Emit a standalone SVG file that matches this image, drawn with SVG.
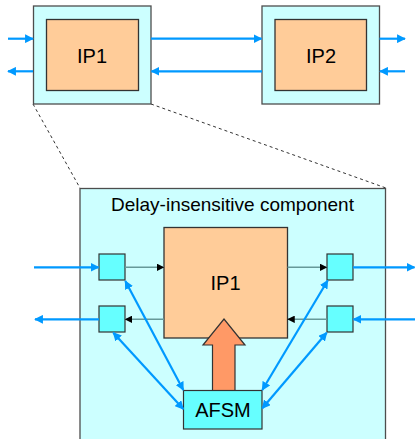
<svg xmlns="http://www.w3.org/2000/svg" width="415" height="439" viewBox="0 0 415 439">
  <style>
    .wrap { fill: #ccffff; stroke: #4d4d4d; stroke-width: 1.3; }
    .core { fill: #ffcc99; stroke: #333333; stroke-width: 1.3; }
    .port { fill: #66ffff; stroke: #333333; stroke-width: 1.2; }
    .label { font-family: "Liberation Sans", Arial, sans-serif; fill: #000000; }
    .wire { stroke: #0099ff; stroke-width: 2.2; fill: none; }
    .inner { stroke: #669999; stroke-width: 1.5; fill: none; }
    .zoom { stroke: #333333; stroke-width: 1; stroke-dasharray: 3 3; fill: none; }
  </style>
  <defs>
    <marker id="blueHead" viewBox="0 0 10 10" refX="9" refY="5" markerWidth="4" markerHeight="4" orient="auto-start-reverse" markerUnits="strokeWidth">
      <path d="M0,0 L10,5 L0,10 Z" fill="#0099ff"/>
    </marker>
    <marker id="blackHead" viewBox="0 0 10 10" refX="9" refY="5" markerWidth="5" markerHeight="5" orient="auto" markerUnits="strokeWidth">
      <path d="M0,0 L10,5 L0,10 Z" fill="#000000"/>
    </marker>
  </defs>

  <!-- zoom guides from the small IP1 to the expanded view -->
  <g id="zoom-guides">
    <line class="zoom" x1="33" y1="104" x2="80" y2="188"/>
    <line class="zoom" x1="151" y1="104" x2="386" y2="188"/>
  </g>

  <!-- top level: two wrapped IP blocks -->
  <g id="ip1-top">
    <rect class="wrap" x="33.5" y="6" width="117.5" height="98"/>
    <rect class="core" x="46.5" y="19.5" width="92" height="71"/>
    <text class="label" x="92" y="62.5" font-size="20" text-anchor="middle">IP1</text>
  </g>
  <g id="ip2-top">
    <rect class="wrap" x="262" y="6" width="117.5" height="98"/>
    <rect class="core" x="275" y="19.5" width="91.5" height="71"/>
    <text class="label" x="321" y="62.5" font-size="20" text-anchor="middle">IP2</text>
  </g>

  <!-- expanded delay-insensitive wrapper -->
  <g id="di-component">
    <rect class="wrap" x="80" y="188.5" width="305.5" height="260" stroke="#000000"/>
    <text class="label" x="232.5" y="210.7" font-size="19" text-anchor="middle">Delay-insensitive component</text>
  </g>
  <g id="ip1-core">
    <rect class="core" x="164" y="227.5" width="123.5" height="110.5"/>
    <text class="label" x="225.5" y="290" font-size="20" text-anchor="middle">IP1</text>
  </g>
  <g id="port-in-left">
    <rect class="port" x="99" y="254" width="26" height="26"/>
  </g>
  <g id="port-out-left">
    <rect class="port" x="99" y="306" width="26" height="26"/>
  </g>
  <g id="port-out-right">
    <rect class="port" x="327" y="254" width="26" height="26"/>
  </g>
  <g id="port-in-right">
    <rect class="port" x="327" y="306" width="26" height="26"/>
  </g>
  <g id="afsm-control">
    <path d="M212.5,390.5 L212.5,345 L203,345 L224,319 L245,345 L235,345 L235,390.5 Z" fill="#ff9966" stroke="#333333" stroke-width="1.2"/>
    <rect class="port" x="183.5" y="390.5" width="78.5" height="38.5"/>
    <text class="label" x="223" y="416.7" font-size="20" text-anchor="middle">AFSM</text>
  </g>

  <g id="connectors">
    <!-- top level channels -->
    <line class="wire" x1="8" y1="38.7" x2="33" y2="38.7" marker-end="url(#blueHead)"/>
    <line class="wire" x1="33" y1="71.3" x2="8" y2="71.3" marker-end="url(#blueHead)"/>
    <line class="wire" x1="151" y1="38.7" x2="261.5" y2="38.7" marker-end="url(#blueHead)"/>
    <line class="wire" x1="262" y1="71.3" x2="151.5" y2="71.3" marker-end="url(#blueHead)"/>
    <line class="wire" x1="379.5" y1="38.7" x2="405" y2="38.7" marker-end="url(#blueHead)"/>
    <line class="wire" x1="405" y1="71.3" x2="380" y2="71.3" marker-end="url(#blueHead)"/>

    <!-- expanded view: external channels -->
    <line class="wire" x1="34" y1="267.3" x2="98.5" y2="267.3" marker-end="url(#blueHead)"/>
    <line class="wire" x1="99" y1="319.3" x2="35" y2="319.3" marker-end="url(#blueHead)"/>
    <line class="wire" x1="353" y1="267.3" x2="414.5" y2="267.3" marker-end="url(#blueHead)"/>
    <line class="wire" x1="415" y1="319.3" x2="353.5" y2="319.3" marker-end="url(#blueHead)"/>

    <!-- ports to IP core -->
    <line class="inner" x1="125" y1="267.3" x2="163.5" y2="267.3" marker-end="url(#blackHead)"/>
    <line class="inner" x1="287.5" y1="267.3" x2="326.5" y2="267.3" marker-end="url(#blackHead)"/>
    <line class="inner" x1="164" y1="319.3" x2="125.5" y2="319.3" marker-end="url(#blackHead)"/>
    <line class="inner" x1="327" y1="319.3" x2="288" y2="319.3" marker-end="url(#blackHead)"/>

    <!-- ports to AFSM handshakes -->
    <line class="wire" x1="125.3" y1="281" x2="183.3" y2="390" marker-start="url(#blueHead)" marker-end="url(#blueHead)"/>
    <line class="wire" x1="113.3" y1="332.7" x2="183.3" y2="409" marker-start="url(#blueHead)" marker-end="url(#blueHead)"/>
    <line class="wire" x1="327.7" y1="280.5" x2="262.3" y2="390" marker-start="url(#blueHead)" marker-end="url(#blueHead)"/>
    <line class="wire" x1="326.7" y1="332.7" x2="262.3" y2="408.3" marker-start="url(#blueHead)" marker-end="url(#blueHead)"/>
  </g>
</svg>
